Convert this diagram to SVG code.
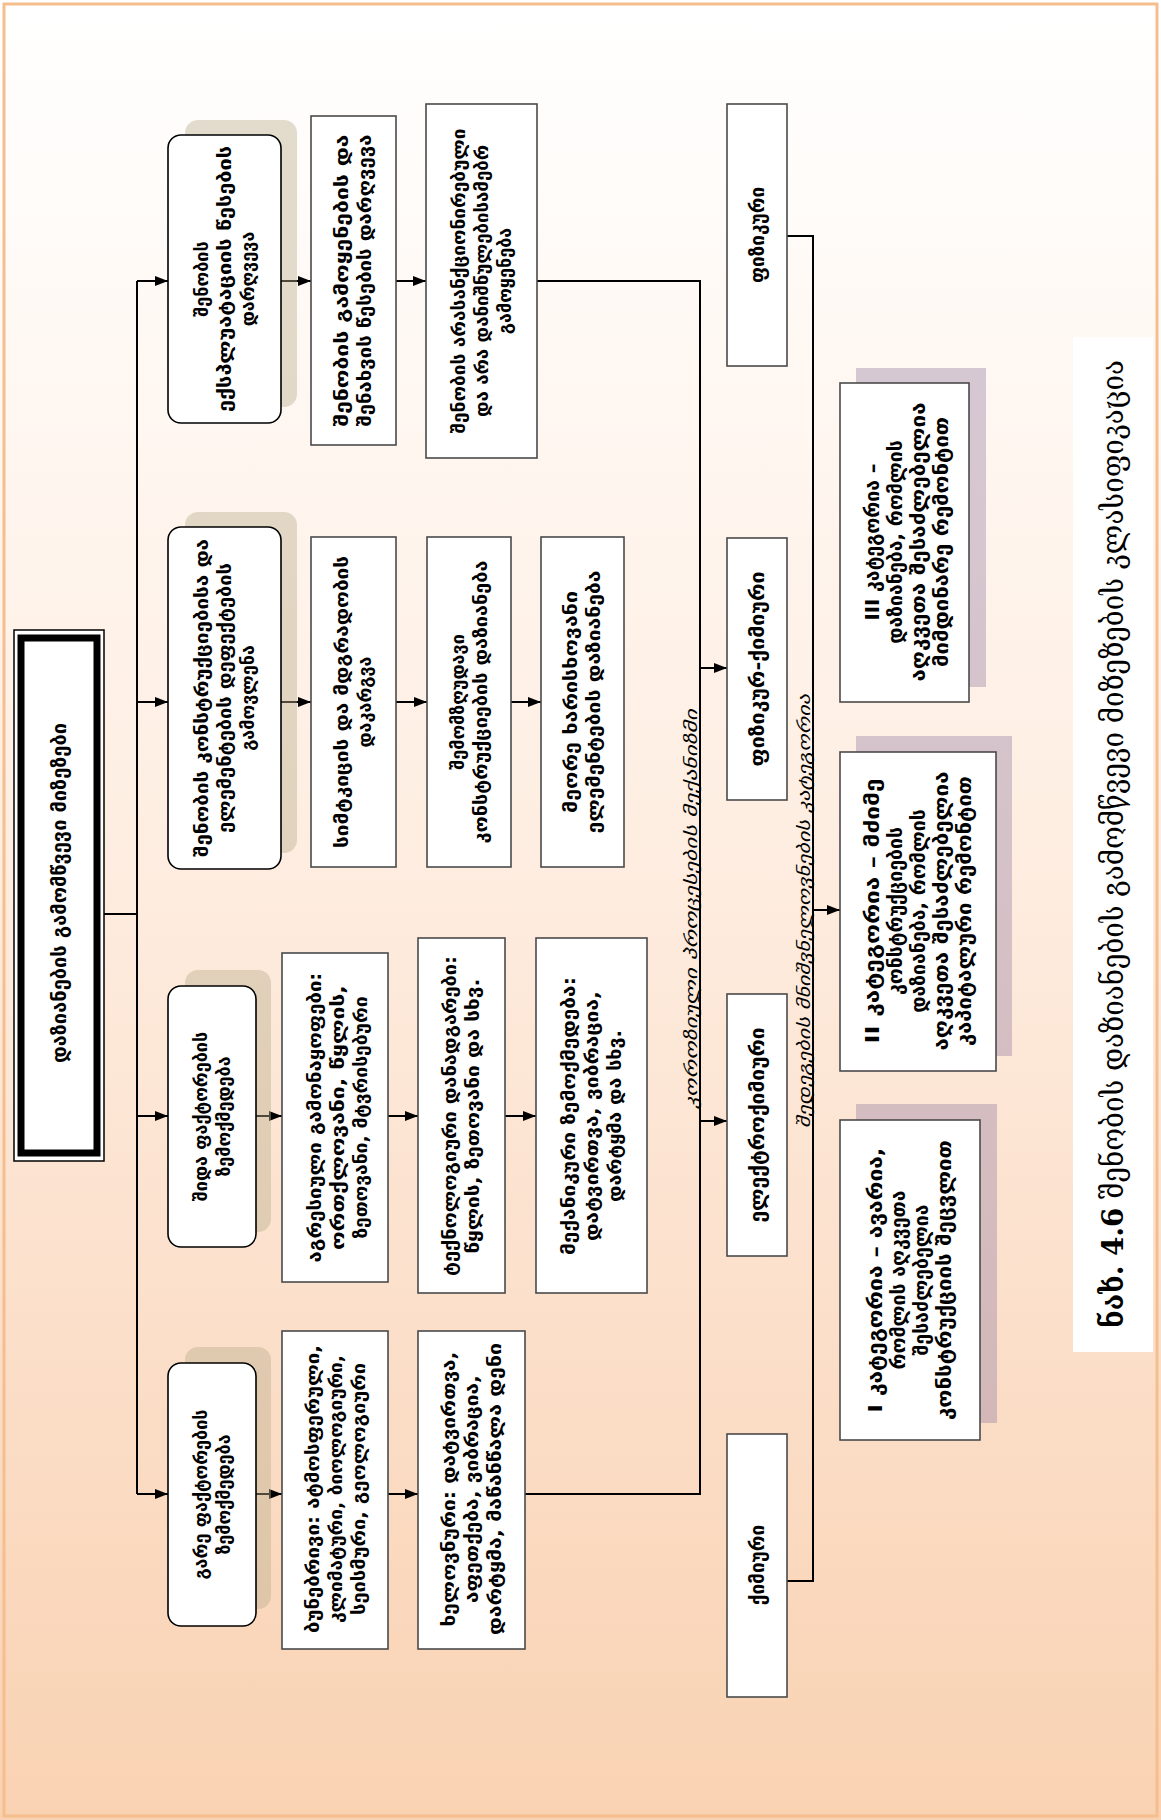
<svg xmlns="http://www.w3.org/2000/svg" width="1161" height="1820" viewBox="0 0 1161 1820">
<defs>
<linearGradient id="bg" x1="0" y1="0" x2="0" y2="1">
<stop offset="0" stop-color="#FFFFFF"/>
<stop offset="0.12" stop-color="#FFFBF8"/>
<stop offset="0.45" stop-color="#FEEEE2"/>
<stop offset="0.75" stop-color="#FBDEC8"/>
<stop offset="1" stop-color="#F9D2B2"/>
</linearGradient>
<marker id="ah" markerUnits="userSpaceOnUse" markerWidth="13" markerHeight="10" refX="13" refY="5" orient="auto">
<path d="M0,0 L13,5 L0,10 z" fill="#000"/>
</marker>
<style>
.t{font-family:"DejaVu Sans","Noto Sans",sans-serif;font-size:18px;font-weight:bold;fill:#000}
.tp{font-family:"DejaVu Sans","Noto Sans",sans-serif;font-size:19px;font-weight:bold;fill:#000}
.tc{font-family:"DejaVu Sans","Noto Sans",sans-serif;font-size:19.5px;font-weight:bold;fill:#000}
.lab{font-family:"DejaVu Sans","Noto Sans",sans-serif;font-size:17px;font-style:italic;fill:#000}
.box{fill:#fff;stroke:#4a4a4a;stroke-width:1.6}
.rbox{fill:#fff;stroke:#000;stroke-width:1.6}
.sh1{fill:#b9ae8c;opacity:0.42}
.sh2{fill:#9e86a8;opacity:0.42}
.ln{fill:none;stroke:#000;stroke-width:2}
.ar{fill:none;stroke:#000;stroke-width:2;marker-end:url(#ah)}
</style>
</defs>
<rect x="0" y="0" width="1161" height="1820" fill="url(#bg)"/>
<rect x="4" y="4" width="1153" height="1812" fill="none" stroke="#F5BE8E" stroke-width="3"/>

<g id="title">
<rect x="14" y="630" width="90" height="531" fill="#fff" stroke="#000" stroke-width="1.5"/>
<rect x="21" y="638" width="76" height="515" fill="#fff" stroke="#000" stroke-width="7"/>
<text class="t" style="font-size:20px" transform="translate(59 893) rotate(-90)" text-anchor="middle" dy="7" textLength="340" lengthAdjust="spacingAndGlyphs">დაზიანების გამომწვევი მიზეზები</text>
</g>

<g id="connectors">
<line class="ln" x1="104" y1="914" x2="137" y2="914"/>
<line class="ln" x1="137" y1="281" x2="137" y2="1494"/>
<line class="ar" x1="137" y1="281" x2="168" y2="281"/>
<line class="ar" x1="137" y1="702" x2="168" y2="702"/>
<line class="ar" x1="137" y1="1116" x2="168" y2="1116"/>
<line class="ar" x1="137" y1="1494" x2="168" y2="1494"/>
<line class="ar" x1="281" y1="281" x2="311" y2="281"/>
<line class="ar" x1="396" y1="281" x2="426" y2="281"/>
<line class="ar" x1="281" y1="702" x2="311" y2="702"/>
<line class="ar" x1="396" y1="702" x2="427" y2="702"/>
<line class="ar" x1="511" y1="702" x2="541" y2="702"/>
<line class="ar" x1="256" y1="1116" x2="282" y2="1116"/>
<line class="ar" x1="388" y1="1116" x2="418" y2="1116"/>
<line class="ar" x1="505" y1="1116" x2="536" y2="1116"/>
<line class="ar" x1="256" y1="1494" x2="282" y2="1494"/>
<line class="ar" x1="388" y1="1494" x2="418" y2="1494"/>
<polyline class="ln" points="537,281 700,281 700,1494 525,1494"/>
<line class="ar" x1="700" y1="668" x2="727" y2="668"/>
<line class="ar" x1="700" y1="1121" x2="727" y2="1121"/>
<polyline class="ln" points="787,236 813,236 813,1581 787,1581"/>
<line class="ar" x1="813" y1="910" x2="840" y2="910"/>
<text class="lab" transform="translate(697 909) rotate(-90)" text-anchor="middle" textLength="400" lengthAdjust="spacingAndGlyphs">კოროზიული პროცესების მექანიზმი</text>
<text class="lab" transform="translate(810 911) rotate(-90)" text-anchor="middle" textLength="434" lengthAdjust="spacingAndGlyphs">შედეგების მნიშვნელოვნების კატეგორია</text>
</g>

<g id="nodeA1">
<rect class="sh1" x="185" y="120" width="112" height="287" rx="13"/>
<rect class="rbox" x="168" y="135" width="113" height="288" rx="13"/>
<text class="t" transform="translate(225 279) rotate(-90)" text-anchor="middle"><tspan x="0" dy="-17">შენობის</tspan><tspan x="0" dy="23" textLength="266" lengthAdjust="spacingAndGlyphs">ექსპლუატაციის წესების</tspan><tspan x="0" dy="23">დარღვევა</tspan></text>
</g>
<g id="nodeA2">
<rect class="box" x="311" y="116" width="85" height="329"/>
<text class="t" transform="translate(353.5 280.5) rotate(-90)" text-anchor="middle"><tspan x="0" dy="-5.5" textLength="292" lengthAdjust="spacingAndGlyphs">შენობის გამოყენების და</tspan><tspan x="0" dy="23" textLength="292" lengthAdjust="spacingAndGlyphs">შენახვის წესების დარღვევა</tspan></text>
</g>
<g id="nodeA3">
<rect class="box" x="426" y="104" width="111" height="354"/>
<text class="t" transform="translate(481.5 281) rotate(-90)" text-anchor="middle"><tspan x="0" dy="-17" textLength="305" lengthAdjust="spacingAndGlyphs">შენობის არასანქციონირებული</tspan><tspan x="0" dy="23" textLength="272" lengthAdjust="spacingAndGlyphs">და არა დანიშნულებისამებრ</tspan><tspan x="0" dy="23">გამოყენება</tspan></text>
</g>

<g id="nodeB1">
<rect class="sh1" x="185" y="512" width="112" height="341" rx="13"/>
<rect class="rbox" x="168" y="527" width="113" height="342" rx="13"/>
<text class="t" transform="translate(225 698) rotate(-90)" text-anchor="middle"><tspan x="0" dy="-17" textLength="318" lengthAdjust="spacingAndGlyphs">შენობის კონსტრუქციებისა და</tspan><tspan x="0" dy="23" textLength="270" lengthAdjust="spacingAndGlyphs">ელემენტების დეფექტების</tspan><tspan x="0" dy="23">გამოვლენა</tspan></text>
</g>
<g id="nodeB2">
<rect class="box" x="311" y="537" width="85" height="330"/>
<text class="t" transform="translate(353.5 702) rotate(-90)" text-anchor="middle"><tspan x="0" dy="-5.5" textLength="292" lengthAdjust="spacingAndGlyphs">სიმტკიცის და მდგრადობის</tspan><tspan x="0" dy="23">დაკარგვა</tspan></text>
</g>
<g id="nodeB3">
<rect class="box" x="427" y="537" width="84" height="330"/>
<text class="t" transform="translate(469 702) rotate(-90)" text-anchor="middle"><tspan x="0" dy="-5.5">შემომზღუდავი</tspan><tspan x="0" dy="23" textLength="283" lengthAdjust="spacingAndGlyphs">კონსტრუქციების დაზიანება</tspan></text>
</g>
<g id="nodeB4">
<rect class="box" x="541" y="537" width="83" height="330"/>
<text class="t" transform="translate(582.5 702) rotate(-90)" text-anchor="middle"><tspan x="0" dy="-5.5" textLength="222" lengthAdjust="spacingAndGlyphs">მეორე ხარისხოვანი</tspan><tspan x="0" dy="23" textLength="263" lengthAdjust="spacingAndGlyphs">ელემენტების დაზიანება</tspan></text>
</g>

<g id="nodeC1">
<rect class="sh1" x="185" y="970" width="86" height="262" rx="13"/>
<rect class="rbox" x="168" y="986" width="88" height="261" rx="13"/>
<text class="t" transform="translate(212 1116.5) rotate(-90)" text-anchor="middle"><tspan x="0" dy="-5.5">შიდა ფაქტორების</tspan><tspan x="0" dy="23">ზემოქმედება</tspan></text>
</g>
<g id="nodeC2">
<rect class="box" x="282" y="953" width="106" height="329"/>
<text class="t" transform="translate(338 1117.5) rotate(-90)" text-anchor="middle"><tspan x="0" dy="-17" textLength="290" lengthAdjust="spacingAndGlyphs">აგრესიული გამონაყოფები:</tspan><tspan x="0" dy="23" textLength="265" lengthAdjust="spacingAndGlyphs">ორთქლოვანი, წყლის,</tspan><tspan x="0" dy="23" textLength="242" lengthAdjust="spacingAndGlyphs">ზეთოვანი, მტვრისებური</tspan></text>
</g>
<g id="nodeC3">
<rect class="box" x="418" y="938" width="87" height="355"/>
<text class="t" transform="translate(461.5 1116) rotate(-90)" text-anchor="middle"><tspan x="0" dy="-5.5" textLength="320" lengthAdjust="spacingAndGlyphs">ტექნოლოგიური დანადგარები:</tspan><tspan x="0" dy="23" textLength="275" lengthAdjust="spacingAndGlyphs">წყლის, ზეთოვანი და სხვ.</tspan></text>
</g>
<g id="nodeC4">
<rect class="box" x="536" y="938" width="111" height="355"/>
<text class="t" transform="translate(591.5 1116) rotate(-90)" text-anchor="middle"><tspan x="0" dy="-17" textLength="278" lengthAdjust="spacingAndGlyphs">მექანიკური ზემოქმედება:</tspan><tspan x="0" dy="23" textLength="250" lengthAdjust="spacingAndGlyphs">დატვირთვა, ვიბრაცია,</tspan><tspan x="0" dy="23" textLength="172" lengthAdjust="spacingAndGlyphs">დარტყმა და სხვ.</tspan></text>
</g>

<g id="nodeD1">
<rect class="sh1" x="185" y="1347" width="86" height="262" rx="13"/>
<rect class="rbox" x="168" y="1363" width="88" height="263" rx="13"/>
<text class="t" transform="translate(212 1494.5) rotate(-90)" text-anchor="middle"><tspan x="0" dy="-5.5">გარე ფაქტორების</tspan><tspan x="0" dy="23">ზემოქმედება</tspan></text>
</g>
<g id="nodeD2">
<rect class="box" x="282" y="1331" width="106" height="318"/>
<text class="t" transform="translate(336 1489) rotate(-90)" text-anchor="middle"><tspan x="0" dy="-17" textLength="288" lengthAdjust="spacingAndGlyphs">ბუნებრივი: ატმოსფერული,</tspan><tspan x="0" dy="23" textLength="268" lengthAdjust="spacingAndGlyphs">კლიმატური, ბიოლოგიური,</tspan><tspan x="0" dy="23" textLength="252" lengthAdjust="spacingAndGlyphs">სეისმური, გეოლოგიური</tspan></text>
</g>
<g id="nodeD3">
<rect class="box" x="418" y="1331" width="107" height="318"/>
<text class="t" transform="translate(472 1489) rotate(-90)" text-anchor="middle"><tspan x="0" dy="-17" textLength="275" lengthAdjust="spacingAndGlyphs">ხელოვნური: დატვირთვა,</tspan><tspan x="0" dy="23" textLength="228" lengthAdjust="spacingAndGlyphs">აფეთქება, ვიბრაცია,</tspan><tspan x="0" dy="23" textLength="292" lengthAdjust="spacingAndGlyphs">დარტყმა, მაწანწალა დენი</tspan></text>
</g>

<g id="nodeP1">
<rect class="box" x="727" y="104" width="60" height="262"/>
<text class="tp" transform="translate(757 235) rotate(-90)" text-anchor="middle" dy="7">ფიზიკური</text>
</g>
<g id="nodeP2">
<rect class="box" x="727" y="538" width="60" height="262"/>
<text class="tp" transform="translate(757 669) rotate(-90)" text-anchor="middle" dy="7" textLength="195" lengthAdjust="spacingAndGlyphs">ფიზიკურ-ქიმიური</text>
</g>
<g id="nodeP3">
<rect class="box" x="727" y="994" width="60" height="262"/>
<text class="tp" transform="translate(757 1125) rotate(-90)" text-anchor="middle" dy="7" textLength="195" lengthAdjust="spacingAndGlyphs">ელექტროქიმიური</text>
</g>
<g id="nodeP4">
<rect class="box" x="727" y="1434" width="60" height="263"/>
<text class="tp" transform="translate(757 1565) rotate(-90)" text-anchor="middle" dy="7">ქიმიური</text>
</g>

<g id="nodeCat3">
<rect class="sh2" x="856" y="368" width="130" height="319"/>
<rect class="box" x="840" y="383" width="129" height="319"/>
<text class="tc" transform="translate(907 542) rotate(-90)" text-anchor="middle"><tspan x="0" dy="-28.5">III კატეგორია –</tspan><tspan x="0" dy="23">დაზიანება, რომლის</tspan><tspan x="0" dy="23" textLength="279" lengthAdjust="spacingAndGlyphs">აღკვეთა შესაძლებელია</tspan><tspan x="0" dy="23" textLength="250" lengthAdjust="spacingAndGlyphs">მიმდინარე რემონტით</tspan></text>
</g>
<g id="nodeCat2">
<rect class="sh2" x="856" y="736" width="156" height="320"/>
<rect class="box" x="840" y="752" width="156" height="319"/>
<text class="tc" transform="translate(919 911) rotate(-90)" text-anchor="middle"><tspan x="0" dy="-40" textLength="265" lengthAdjust="spacingAndGlyphs">II კატეგორია – მძიმე</tspan><tspan x="0" dy="23">კონსტრუქციების</tspan><tspan x="0" dy="23">დაზიანება, რომლის</tspan><tspan x="0" dy="23" textLength="279" lengthAdjust="spacingAndGlyphs">აღკვეთა შესაძლებელია</tspan><tspan x="0" dy="23" textLength="270" lengthAdjust="spacingAndGlyphs">კაპიტალური რემონტით</tspan></text>
</g>
<g id="nodeCat1">
<rect class="sh2" x="856" y="1104" width="141" height="319"/>
<rect class="box" x="840" y="1120" width="140" height="320"/>
<text class="tc" transform="translate(910 1280) rotate(-90)" text-anchor="middle"><tspan x="0" dy="-28.5" textLength="265" lengthAdjust="spacingAndGlyphs">I კატეგორია – ავარია,</tspan><tspan x="0" dy="23">რომლის აღკვეთა</tspan><tspan x="0" dy="23">შესაძლებელია</tspan><tspan x="0" dy="23" textLength="280" lengthAdjust="spacingAndGlyphs">კონსტრუქციის შეცვლით</tspan></text>
</g>

<g id="caption">
<rect x="1073" y="337" width="80" height="1015" fill="#fff"/>
<text style="font-family:'DejaVu Serif','DejaVu Sans',serif;font-size:30px;fill:#000" transform="translate(1113 844) rotate(-90)" text-anchor="middle" dy="10" textLength="968" lengthAdjust="spacingAndGlyphs"><tspan font-weight="bold">ნახ. 4.6</tspan> შენობის დაზიანების გამომწვევი მიზეზების კლასიფიკაცია</text>
</g>
</svg>
